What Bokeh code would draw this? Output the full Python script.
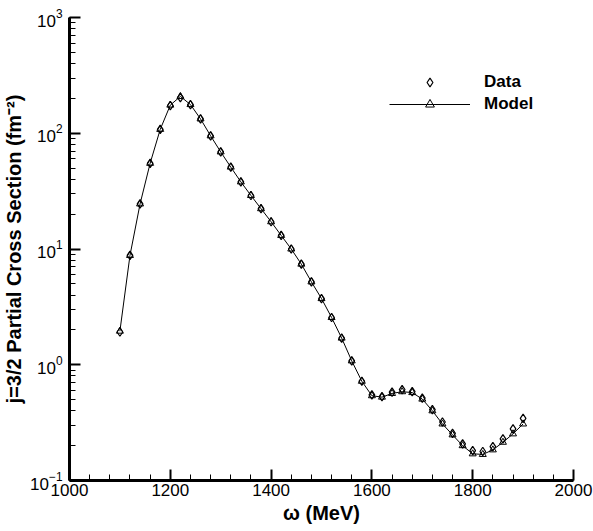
import math
from bokeh.plotting import figure
from bokeh.models import (ColumnDataSource, Legend, LegendItem, LogTicker,
                          SingleIntervalTicker, Range1d)
from bokeh.embed import file_html
from bokeh.resources import INLINE

# ---- data ----
omega = [1100, 1120, 1140, 1160, 1180, 1200, 1220, 1240, 1260, 1280,
         1300, 1320, 1340, 1360, 1380, 1400, 1420, 1440, 1460, 1480,
         1500, 1520, 1540, 1560, 1580, 1600, 1620, 1640, 1660, 1680,
         1700, 1720, 1740, 1760, 1780, 1800, 1820, 1840, 1860, 1880, 1900]

data_xs = [1.92, 8.8, 24.5, 55, 108, 173, 203, 177, 133, 95,
           69, 51, 38, 29, 22.3, 17.2, 13.1, 10.0, 7.4, 5.2,
           3.73, 2.56, 1.70, 1.08, 0.72, 0.55, 0.53, 0.58, 0.61, 0.585,
           0.515, 0.41, 0.32, 0.255, 0.207, 0.181, 0.178, 0.196, 0.229, 0.279, 0.344]

model_xs = [1.95, 8.8, 24.5, 55, 108, 175, 208, 177, 133, 95,
            69, 51, 38, 29, 22.3, 17.2, 13.1, 10.0, 7.4, 5.2,
            3.73, 2.56, 1.70, 1.08, 0.72, 0.54, 0.525, 0.565, 0.585, 0.575,
            0.505, 0.40, 0.308, 0.248, 0.200, 0.170, 0.168, 0.184, 0.214, 0.253, 0.308]

x_label = "ω (MeV)"
y_label = "j=3/2 Partial Cross Section (fm⁻²)"
legend_labels = ["Data", "Model"]

FONT = "Liberation Sans"

src_d = ColumnDataSource(dict(x=omega, y=data_xs))
src_m = ColumnDataSource(dict(x=omega, y=model_xs))

p = figure(width=593, height=531, output_backend="svg", toolbar_location=None,
           y_axis_type="log",
           x_range=Range1d(1000, 2000), y_range=Range1d(0.1, 1000),
           min_border_left=69, min_border_right=20,
           min_border_top=17, min_border_bottom=51)

p.outline_line_color = None
p.xgrid.visible = False
p.ygrid.visible = False
p.background_fill_color = "white"
p.border_fill_color = "white"

# model line + triangles
r_line = p.line("x", "y", source=src_m, line_color="black", line_width=1)
r_tri = p.scatter("x", "y", source=src_m, marker="triangle", size=7,
                  line_color="black", fill_color=None, line_width=1)
# data diamonds
r_dia = p.scatter("x", "y", source=src_d, marker="diamond", size=8.5,
                  line_color="black", fill_color=None, line_width=1.2)

# axes
p.xaxis.ticker = SingleIntervalTicker(interval=200, num_minor_ticks=5)
p.yaxis.ticker = LogTicker(mantissas=[1], desired_num_ticks=5, num_minor_ticks=10)

for ax in (p.xaxis[0], p.yaxis[0]):
    ax.axis_line_width = 3
    ax.axis_line_color = "black"
    ax.major_tick_in = 11
    ax.major_tick_out = 0
    ax.minor_tick_in = 6
    ax.minor_tick_out = 0
    ax.major_tick_line_width = 2
    ax.minor_tick_line_width = 1
    ax.major_tick_line_color = "black"
    ax.minor_tick_line_color = "black"
    ax.major_label_text_font = FONT
    ax.major_label_text_font_size = "17px"
    ax.major_label_text_color = "black"
    ax.axis_label_text_font = FONT
    ax.axis_label_text_font_style = "bold"
    ax.axis_label_text_font_size = "20px"
    ax.axis_label_text_color = "black"

p.xaxis.axis_label = x_label
p.yaxis.axis_label = y_label
p.xaxis.major_label_standoff = 3
p.xaxis.axis_label_standoff = 3
p.yaxis.major_label_standoff = 7
p.yaxis.axis_label_standoff = 2

legend = Legend(items=[LegendItem(label=legend_labels[0], renderers=[r_dia]),
                       LegendItem(label=legend_labels[1], renderers=[r_line, r_tri])],
                location=(320, 365), orientation="vertical",
                padding=0, margin=0, spacing=0,
                glyph_width=81, glyph_height=22, label_height=22,
                label_standoff=14,
                label_text_font=FONT, label_text_font_style="bold",
                label_text_font_size="17px", label_text_color="black",
                border_line_color=None, background_fill_alpha=0.0)
p.add_layout(legend)

open("out.html", "w").write(file_html(p, INLINE))
